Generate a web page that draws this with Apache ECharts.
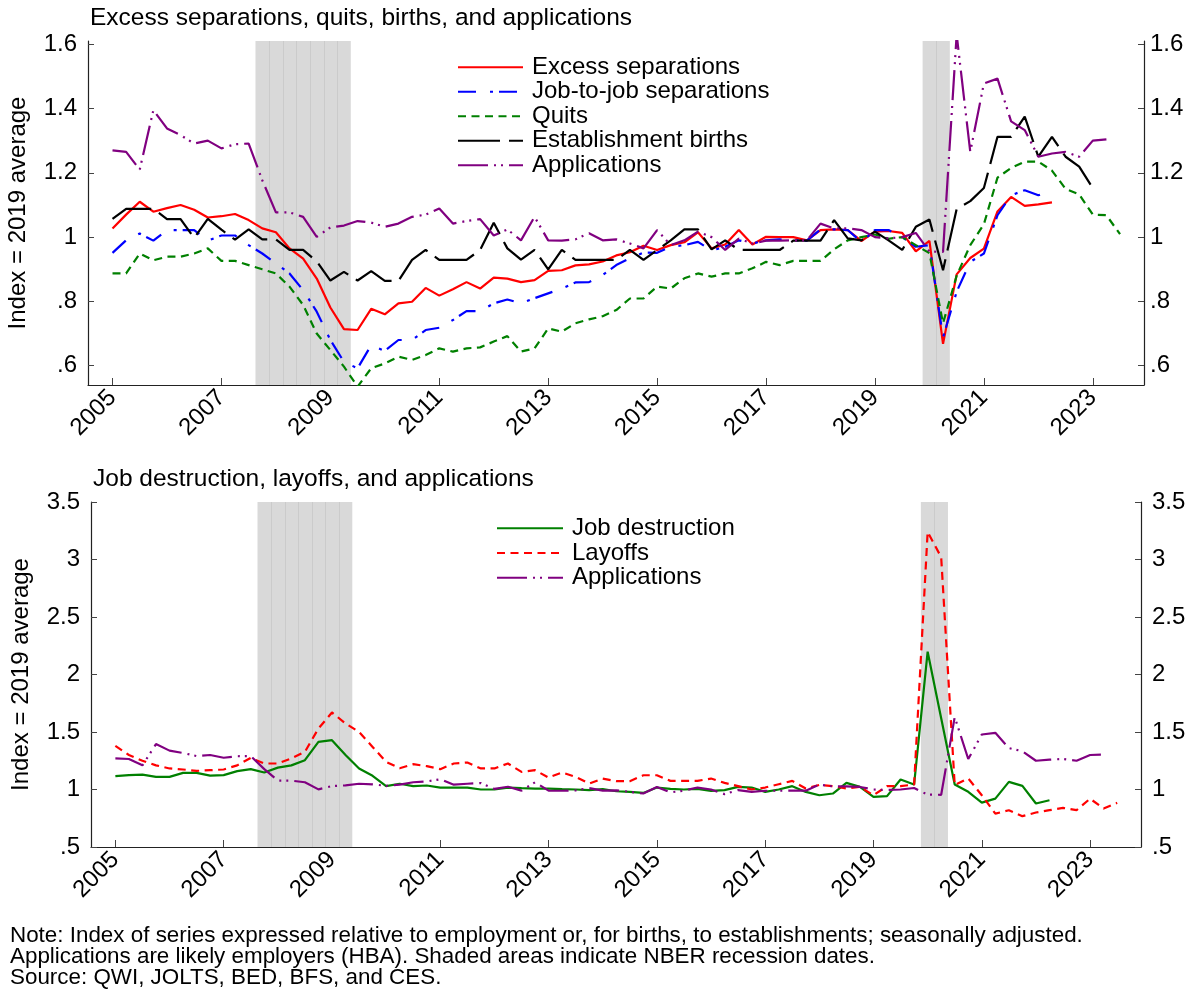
<!DOCTYPE html>
<html>
<head>
<meta charset="utf-8">
<title>Excess separations, quits, births, and applications</title>
<script src="https://cdn.jsdelivr.net/npm/echarts@6/dist/echarts.min.js"></script>
<style>
html, body { margin: 0; padding: 0; background: #fff; }
#main { width: 1194px; height: 991px; }
</style>
</head>
<body>
<div id="main"></div>
<script>
// quarterly series, first value is 2005q1
var startYear = 2005;
var yearTicks = [2005, 2007, 2009, 2011, 2013, 2015, 2017, 2019, 2021, 2023];
var topTicks = [0.6, 0.8, 1, 1.2, 1.4, 1.6];
var bottomTicks = [0.5, 1, 1.5, 2, 2.5, 3, 3.5];
// NBER recessions: first and last quarter
var recessions = [[2007.75, 2009.25], [2020, 2020.25]];

var excessSep = [1.027, 1.07, 1.11, 1.079, 1.09, 1.10, 1.085, 1.061, 1.065, 1.072, 1.053, 1.027,
    1.015, 0.965, 0.933, 0.871, 0.781, 0.714, 0.711, 0.777, 0.76, 0.794, 0.799, 0.842,
    0.818, 0.838, 0.86, 0.84, 0.874, 0.871, 0.86, 0.866, 0.895, 0.897, 0.912, 0.915,
    0.924, 0.943, 0.953, 0.973, 0.96, 0.975, 0.984, 1.015, 0.965, 0.977, 1.022, 0.977,
    1.001, 1.0, 1.0, 0.99, 1.022, 1.024, 1.022, 0.988, 1.017, 1.019, 1.013, 0.956,
    0.988, 0.668, 0.884, 0.935, 0.964, 1.08, 1.125, 1.097, 1.102, 1.108];
var jobToJob = [0.951, 0.99, 1.011, 0.989, 1.022, 1.022, 1.022, 0.989, 1.005, 1.005, 0.975, 0.949,
    0.918, 0.887, 0.835, 0.768, 0.68, 0.612, 0.592, 0.664, 0.646, 0.68, 0.68, 0.711,
    0.718, 0.742, 0.77, 0.77, 0.794, 0.806, 0.794, 0.81, 0.825, 0.84, 0.859, 0.86,
    0.882, 0.913, 0.934, 0.952, 0.951, 0.97, 0.975, 0.985, 0.958, 0.97, 0.99, 0.98,
    0.99, 0.993, 0.99, 0.989, 1.024, 1.024, 1.022, 0.985, 1.022, 1.022, 1.0, 0.97,
    0.975, 0.688, 0.83, 0.923, 0.949, 1.068, 1.13, 1.146, 1.13, 1.146];
var quits = [0.887, 0.887, 0.949, 0.928, 0.939, 0.939, 0.949, 0.965, 0.926, 0.926, 0.913, 0.9,
    0.887, 0.846, 0.789, 0.70, 0.649, 0.597, 0.535, 0.592, 0.607, 0.628, 0.618, 0.633,
    0.654, 0.644, 0.654, 0.657, 0.675, 0.692, 0.644, 0.654, 0.716, 0.706, 0.732, 0.744,
    0.754, 0.773, 0.809, 0.809, 0.846, 0.84, 0.872, 0.887, 0.877, 0.887, 0.887, 0.903,
    0.923, 0.913, 0.926, 0.926, 0.926, 0.962, 0.99, 1.0, 1.008, 0.995, 1.0, 0.975,
    0.95, 0.732, 0.88, 0.975, 1.04, 1.185, 1.215, 1.235, 1.235, 1.207, 1.15, 1.133,
    1.07, 1.068, 1.009];
var births = [1.057, 1.088, 1.088, 1.088, 1.056, 1.056, 0.997, 1.057, 1.023, 0.992, 1.024, 0.993,
    0.993, 0.96, 0.96, 0.925, 0.865, 0.892, 0.865, 0.894, 0.864, 0.864, 0.929, 0.96,
    0.929, 0.929, 0.929, 0.96, 1.045, 0.965, 0.93, 0.96, 0.9, 0.96, 0.929, 0.929,
    0.929, 0.929, 0.96, 0.929, 0.96, 0.99, 1.024, 1.024, 0.962, 0.99, 0.96, 0.96,
    0.96, 0.96, 0.989, 0.989, 0.989, 1.053, 0.996, 0.99, 1.017, 0.99, 0.96, 1.032,
    1.055, 0.897, 1.087, 1.112, 1.153, 1.312, 1.312, 1.375, 1.25, 1.312, 1.25, 1.219,
    1.152];
var applications = [1.27, 1.265, 1.21, 1.395, 1.338, 1.317, 1.291, 1.30, 1.276, 1.289, 1.291, 1.177,
    1.077, 1.077, 1.063, 1.001, 1.03, 1.036, 1.05, 1.045, 1.032, 1.042, 1.063, 1.07,
    1.089, 1.042, 1.05, 1.056, 1.005, 1.024, 0.99, 1.063, 0.99, 0.989, 0.993, 1.012,
    0.99, 0.993, 0.98, 0.965, 1.022, 0.975, 0.99, 1.017, 1.0, 0.96, 0.995, 0.98,
    0.989, 0.989, 0.99, 0.99, 1.042, 1.027, 1.027, 1.022, 1.0, 0.996, 1.0, 1.013,
    0.955, 0.954, 1.63, 1.265, 1.478, 1.493, 1.36, 1.333, 1.25, 1.26, 1.265, 1.25,
    1.30, 1.304];
var jobDestruction = [1.116, 1.125, 1.13, 1.11, 1.11, 1.145, 1.145, 1.12, 1.125, 1.16, 1.177, 1.148,
    1.19, 1.21, 1.255, 1.414, 1.429, 1.30, 1.183, 1.119, 1.03, 1.05, 1.03, 1.035,
    1.017, 1.017, 1.017, 1.0, 1.0, 1.017, 1.012, 1.008, 1.008, 1.003, 1.0, 0.994,
    1.003, 0.985, 0.979, 0.97, 1.017, 1.005, 1.0, 1.005, 0.988, 0.994, 1.023, 1.017,
    0.979, 1.0, 1.029, 0.979, 0.95, 0.965, 1.058, 1.023, 0.936, 0.942, 1.087, 1.043,
    2.198, 1.62, 1.044, 0.98, 0.886, 0.921, 1.066, 1.032, 0.878, 0.907];
var layoffs = [1.38, 1.30, 1.25, 1.21, 1.183, 1.174, 1.162, 1.168, 1.174, 1.21, 1.275, 1.226,
    1.226, 1.27, 1.327, 1.53, 1.67, 1.574, 1.50, 1.37, 1.24, 1.185, 1.22, 1.203,
    1.177, 1.226, 1.235, 1.183, 1.183, 1.226, 1.153, 1.168, 1.104, 1.148, 1.11, 1.052,
    1.095, 1.072, 1.072, 1.124, 1.124, 1.075, 1.075, 1.075, 1.095, 1.058, 1.029, 1.0,
    1.017, 1.046, 1.075, 1.009, 1.04, 1.029, 1.009, 1.023, 0.95, 1.029, 1.029, 1.043,
    3.24, 3.02, 1.038, 1.096, 0.95, 0.79, 0.82, 0.768, 0.80, 0.82, 0.84, 0.82,
    0.92, 0.834, 0.884];

var FONT = '"Liberation Sans", Arial, sans-serif';
var FS = 24;

var qs = function(arr) {
    return arr.map(function(v, i) { return [startYear + i / 4, v]; });
};

var fmt = function(v) {
    return String(+(+v).toFixed(2)).replace(/^0\./, '.');
};

var line = function(name, data, color, dash, grid, z) {
    return {
        name: name,
        type: 'line',
        data: qs(data),
        xAxisIndex: grid,
        yAxisIndex: grid * 2,
        symbol: 'none',
        showSymbol: false,
        z: z,
        lineStyle: { color: color, width: 2.2, type: dash, cap: 'butt' },
        itemStyle: { color: color },
        emphasis: { disabled: true }
    };
};

// grey bands, one stripe at every quarter boundary inside a recession
var shading = function(grid) {
    var areas = [], stripes = [];
    recessions.forEach(function(r) {
        areas.push([{ xAxis: r[0] - 0.125 }, { xAxis: r[1] + 0.125 }]);
        for (var q = r[0] + 0.125; q < r[1]; q += 0.25) stripes.push({ xAxis: q });
    });
    return {
        type: 'line',
        data: [[startYear, null]],
        xAxisIndex: grid,
        yAxisIndex: grid * 2,
        symbol: 'none',
        z: 1,
        markArea: { silent: true, itemStyle: { color: '#d9d9d9' }, data: areas },
        markLine: {
            silent: true, symbol: ['none', 'none'], label: { show: false },
            lineStyle: { color: '#cbcbcb', width: 1, type: 'solid' }, data: stripes
        }
    };
};

var xAxis = function(grid) {
    return {
        gridIndex: grid, type: 'value', min: 2004.55, max: 2023.94,
        axisLine: { show: true, onZero: false, lineStyle: { color: '#222', width: 1.2 } },
        axisTick: { show: true, inside: true, length: 7, customValues: yearTicks, lineStyle: { color: '#444' } },
        axisLabel: { customValues: yearTicks, rotate: 45, margin: 9, fontSize: FS, color: '#000', fontFamily: FONT,
            formatter: function(v) { return String(v); } },
        splitLine: { show: false }
    };
};

var yAxis = function(grid, pos, min, max, ticks, margin) {
    var a = {
        gridIndex: grid, type: 'value', position: pos, min: min, max: max,
        axisLine: { show: true, onZero: false, lineStyle: { color: '#222', width: 1.2 } },
        axisTick: { show: true, inside: true, length: 6, customValues: ticks, lineStyle: { color: '#444' } },
        axisLabel: { customValues: ticks, margin: margin, fontSize: FS, color: '#000', fontFamily: FONT, formatter: fmt },
        splitLine: { show: false }
    };
    if (pos == 'left') {
        a.name = 'Index = 2019 average';
        a.nameLocation = 'middle';
        a.nameGap = 58;
        a.nameTextStyle = { fontSize: FS, color: '#000', fontFamily: FONT };
    }
    return a;
};

var legendText = { fontSize: FS, color: '#000', fontFamily: FONT, padding: [0, 0, 0, 4] };

var myChart = echarts.init(document.getElementById('main'));
var option = {
    animation: false,
    backgroundColor: '#fff',
    title: [
        { text: 'Excess separations, quits, births, and applications', left: 90, top: 6, padding: 0,
          textStyle: { fontSize: 24.5, fontWeight: 'normal', color: '#000', fontFamily: FONT } },
        { text: 'Job destruction, layoffs, and applications', left: 93, top: 467, padding: 0,
          textStyle: { fontSize: 24.5, fontWeight: 'normal', color: '#000', fontFamily: FONT } }
    ],
    legend: [
        { data: ['Excess separations', 'Job-to-job separations', 'Quits', 'Establishment births', 'Applications'],
          orient: 'vertical', left: 452, top: 50, itemWidth: 65, itemHeight: 10, itemGap: 0,
          selectedMode: false, itemStyle: { opacity: 0 },
          textStyle: Object.assign({ lineHeight: 24.5 }, legendText) },
        { data: ['Job destruction', 'Layoffs', 'Applications '],
          orient: 'vertical', left: 491, top: 511, itemWidth: 66, itemHeight: 10, itemGap: 0,
          selectedMode: false, itemStyle: { opacity: 0 },
          textStyle: Object.assign({ lineHeight: 24.7 }, legendText) }
    ],
    grid: [
        { left: 88, right: 50, top: 41, bottom: 606, outerBoundsMode: 'none' },
        { left: 91, right: 53, top: 502, bottom: 144, outerBoundsMode: 'none' }
    ],
    xAxis: [xAxis(0), xAxis(1)],
    yAxis: [
        yAxis(0, 'left', 0.54, 1.61, topTicks, 11),
        yAxis(0, 'right', 0.54, 1.61, topTicks, 6),
        yAxis(1, 'left', 0.5, 3.5, bottomTicks, 11),
        yAxis(1, 'right', 0.5, 3.5, bottomTicks, 11)
    ],
    series: [
        shading(0),
        line('Excess separations', excessSep, '#ff0000', 'solid', 0, 5),
        line('Job-to-job separations', jobToJob, '#0000ff', [18, 14, 3, 6], 0, 6),
        line('Quits', quits, '#008000', [8, 5.5], 0, 7),
        line('Establishment births', births, '#000000', [42, 9], 0, 8),
        line('Applications', applications, '#800080', [30, 6, 2, 5, 2, 6], 0, 9),
        shading(1),
        line('Job destruction', jobDestruction, '#008000', 'solid', 1, 5),
        line('Layoffs', layoffs, '#ff0000', [8, 5.5], 1, 6),
        line('Applications ', applications, '#800080', [30, 6, 2, 5, 2, 6], 1, 7)
    ],
    graphic: [{
        type: 'text', left: 10, top: 925,
        style: {
            text: 'Note: Index of series expressed relative to employment or, for births, to establishments; seasonally adjusted.\n' +
                  'Applications are likely employers (HBA). Shaded areas indicate NBER recession dates.\n' +
                  'Source: QWI, JOLTS, BED, BFS, and CES.',
            font: '22.4px ' + FONT, lineHeight: 20.8, fill: '#000'
        }
    }]
};
myChart.setOption(option);
</script>
</body>
</html>
